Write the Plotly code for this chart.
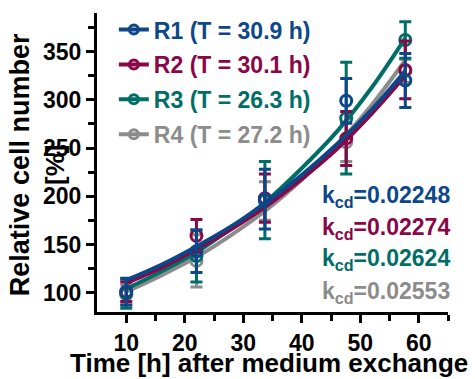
import plotly.graph_objects as go

# ---- data ----
time_h = [10, 22, 33.7, 47.6, 57.7]
series_names = ["R1 (T = 30.9 h)", "R2 (T = 30.1 h)", "R3 (T = 26.3 h)", "R4 (T = 27.2 h)"]
k_labels = ["0.02248", "0.02274", "0.02624", "0.02553"]

r1_mean = [101, 143, 197, 299, 320]
r1_err = [14, 22, 31, 23, 28]
r2_mean = [101, 159, 198, 260, 331]
r2_err = [10, 17, 25, 28, 30]
r3_mean = [99, 138, 196, 281, 362]
r3_err = [15, 27, 40, 58, 19]
r4_mean = [98, 133, 195, 256, 330]
r4_err = [10, 27, 20, 20, 12]

# fitted exponential curves
fit_time = [10, 16, 22, 28, 34, 40, 46, 52, 57.7]
r1_fit = [113, 129, 148, 169, 194, 222, 254, 290, 330]
r2_fit = [110, 126, 145, 166, 190, 218, 249, 286, 325]
r3_fit = [104, 122, 142, 167, 195, 229, 267, 313, 364]
r4_fit = [101, 118, 137, 160, 186, 217, 253, 295, 341]

x_ticks = [10, 20, 30, 40, 50, 60]
x_minor = [15, 25, 35, 45, 55, 65]
y_ticks = [100, 150, 200, 250, 300, 350]
y_minor = [125, 175, 225, 275, 325, 375]

x_title = "Time [h] after medium exchange"
y_title = "Relative cell number"
y_unit = "[%]"

colors = ["#0b4789", "#8a0747", "#006e67", "#8c8c8c"]
means = [r1_mean, r2_mean, r3_mean, r4_mean]
errs = [r1_err, r2_err, r3_err, r4_err]
fits = [r1_fit, r2_fit, r3_fit, r4_fit]

FONT = "Arial, Liberation Sans, Helvetica, sans-serif"

fig = go.Figure()

# draw in reverse so R1 sits on top
for i in reversed(range(4)):
    c = colors[i]
    fig.add_trace(go.Scatter(
        x=fit_time, y=fits[i], mode="lines", line=dict(color=c, width=4, shape="spline", smoothing=1.0),
        showlegend=False, hoverinfo="skip"))
    fig.add_trace(go.Scatter(
        x=time_h, y=means[i], mode="markers",
        marker=dict(symbol="circle-open", size=11, color=c, line=dict(width=3, color=c)),
        error_y=dict(type="data", array=errs[i], visible=True, color=c, thickness=3, width=6),
        showlegend=False))

# legend entries (line + marker symbol)
for i in range(4):
    c = colors[i]
    fig.add_trace(go.Scatter(
        x=[None], y=[None], mode="lines+markers",
        line=dict(color=c, width=4),
        marker=dict(symbol="circle-open", size=9, color=c, line=dict(width=3, color=c)),
        name=f"<span style='color:{c}'>{series_names[i]}</span>",
        legendgroup=f"g{i}", showlegend=True))

# paper height = 379 - 67 = 312 px; the y axis occupies its top-trimmed domain
# k_cd labels
ky = [0.3686, 0.269, 0.1667, 0.0641]
for i in range(4):
    fig.add_annotation(
        x=1.012, y=ky[i], xref="paper", yref="paper", xanchor="right", yanchor="middle",
        text=f"<b>k<sub>cd</sub>=</b><b>{k_labels[i]}</b>", showarrow=False,
        font=dict(family=FONT, size=23, color=colors[i]))

# axis titles as annotations (exact placement)
fig.add_annotation(
    x=0.49, y=-0.1635, xref="paper", yref="paper", xanchor="center", yanchor="middle",
    text=f"<b>{x_title}</b>", showarrow=False, font=dict(family=FONT, size=26, color="black"))
fig.add_annotation(
    x=-0.219, y=0.471, xref="paper", yref="paper", xanchor="center", yanchor="middle",
    text=f"<b>{y_title}</b>", showarrow=False, textangle=-90,
    font=dict(family=FONT, size=27, color="black"))
fig.add_annotation(
    x=-0.12, y=0.471, xref="paper", yref="paper", xanchor="center", yanchor="middle",
    text=f"<b>{y_unit}</b>", showarrow=False, textangle=-90,
    font=dict(family=FONT, size=26, color="black"))

axis_common = dict(
    showline=True, linewidth=3, linecolor="black", ticks="outside", ticklen=8, tickwidth=3,
    tickcolor="black", showgrid=False, zeroline=False, automargin=False,
    tickfont=dict(family=FONT, size=23, color="black", weight="bold"))

fig.update_xaxes(
    range=[5, 65], tickvals=x_ticks, ticktext=[str(v) for v in x_ticks],
    minor=dict(ticks="outside", tickvals=x_minor, ticklen=6, tickwidth=3, tickcolor="black"),
    **axis_common)
fig.update_yaxes(
    range=[80, 390], tickvals=y_ticks, ticktext=[str(v) for v in y_ticks], domain=[0, 0.9583],
    minor=dict(ticks="outside", tickvals=y_minor, ticklen=6, tickwidth=3, tickcolor="black"),
    **axis_common)

fig.update_layout(
    width=475, height=379,
    margin=dict(l=97, r=27, t=0, b=67),
    plot_bgcolor="white", paper_bgcolor="white",
    font=dict(family=FONT, color="black"),
    legend=dict(x=0.048, y=0.974, xanchor="left", yanchor="top", bgcolor="rgba(0,0,0,0)",
                font=dict(family=FONT, size=23, weight="bold"), traceorder="grouped",
                tracegroupgap=2, itemwidth=30),
)

fig.write_html("out.html", config={"displayModeBar": False},
               post_script="document.body.style.margin='0';")
